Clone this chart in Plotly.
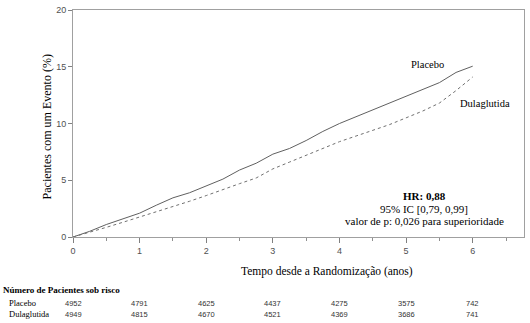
import plotly.graph_objects as go

# ---- data ----
years = [0, 0.25, 0.5, 0.75, 1.0, 1.25, 1.5, 1.75, 2.0, 2.25, 2.5, 2.75, 3.0,
         3.25, 3.5, 3.75, 4.0, 4.25, 4.5, 4.75, 5.0, 5.25, 5.5, 5.75, 6.0]
placebo = [0, 0.5, 1.1, 1.6, 2.1, 2.8, 3.45, 3.9, 4.5, 5.1, 5.9, 6.5, 7.3,
           7.8, 8.5, 9.3, 10.0, 10.6, 11.2, 11.8, 12.4, 13.0, 13.6, 14.5, 15.05]
dulaglutida = [0, 0.4, 0.85, 1.3, 1.75, 2.2, 2.65, 3.15, 3.65, 4.2, 4.7, 5.2, 6.0,
               6.6, 7.2, 7.8, 8.4, 8.9, 9.4, 9.9, 10.5, 11.1, 11.8, 12.9, 14.1]

risk_years = [0, 1, 2, 3, 4, 5, 6]
risk_placebo = [4952, 4791, 4625, 4437, 4275, 3575, 742]
risk_dulaglutida = [4949, 4815, 4670, 4521, 4369, 3686, 741]

x_ticks = [0, 1, 2, 3, 4, 5, 6]
y_ticks = [0, 5, 10, 15, 20]

SERIF = "Liberation Serif"
SANS = "Liberation Sans"

W, H = 530, 323
ML, MR, MT, MB = 73, 6, 5, 86
PW = W - ML - MR
PH = H - MT - MB


def py(p):
    """pixel y (from top) -> paper y"""
    return (H - MB - p) / PH


def px(p):
    """pixel x (from left) -> paper x"""
    return (p - ML) / PW


fig = go.Figure()
fig.add_trace(go.Scatter(x=years, y=placebo, mode="lines", name="Placebo",
                         line=dict(color="#606060", width=1, dash="solid"),
                         showlegend=False))
fig.add_trace(go.Scatter(x=years, y=dulaglutida, mode="lines", name="Dulaglutida",
                         line=dict(color="#707070", width=1, dash="dot"),
                         showlegend=False))

ann = []


def text_ann(x, y, text, size, family=SERIF, color="#000", xanchor="center",
             xref="paper", angle=0):
    ann.append(dict(x=x, y=y, xref=xref, yref="paper", text=text, showarrow=False,
                    font=dict(family=family, size=size, color=color),
                    xanchor=xanchor, yanchor="middle", textangle=angle))


# curve labels
text_ann(px(427), py(61), "Placebo", 10.5)
text_ann(px(485), py(101), "Dulaglutida", 10.5)
# HR block
text_ann(px(424), py(195), "<b>HR: 0,88</b>", 11)
text_ann(px(424), py(208), "95% IC [0,79, 0,99]", 11)
text_ann(px(424), py(220.5), "valor de p: 0,026 para superioridade", 11)
# axis titles
text_ann(px(327), py(272), "Tempo desde a Randomização (anos)", 11.5)
text_ann(px(47), py(125), "Pacientes com um Evento (%)", 12, angle=-90)
# risk table
text_ann(px(1), py(291.5), "<b>Número de Pacientes sob risco</b>", 9, xanchor="left")
text_ann(px(7), py(304.5), "Placebo", 8.5, xanchor="left")
text_ann(px(7), py(315.5), "Dulaglutida", 8.5, xanchor="left")
for xv, a, b in zip(risk_years, risk_placebo, risk_dulaglutida):
    text_ann(xv, py(305), str(a), 7.5, family=SANS, color="#333", xref="x")
    text_ann(xv, py(316), str(b), 7.5, family=SANS, color="#333", xref="x")

fig.update_layout(
    width=W, height=H,
    margin=dict(l=ML, r=MR, t=MT, b=MB, pad=0),
    paper_bgcolor="white", plot_bgcolor="white",
    annotations=ann,
    xaxis=dict(range=[0, 6.77], tickvals=x_ticks, ticktext=[str(v) for v in x_ticks],
               showgrid=False, zeroline=False, showline=True, mirror=True,
               linecolor="#a0a0a0", linewidth=1,
               ticks="outside", ticklen=5, tickcolor="#808080", tickwidth=1,
               tickfont=dict(family=SANS, size=9, color="#505050"),
               minor=dict(dtick=0.5, tick0=0, ticks="outside", ticklen=3,
                          tickcolor="#909090", tickwidth=1)),
    yaxis=dict(range=[0, 20], tickvals=y_ticks, ticktext=[str(v) for v in y_ticks],
               showgrid=False, zeroline=False, showline=True, mirror=True,
               linecolor="#a0a0a0", linewidth=1,
               ticks="outside", ticklen=4, tickcolor="#808080", tickwidth=1,
               tickfont=dict(family=SANS, size=9, color="#505050")),
)

fig.write_html("out.html")
